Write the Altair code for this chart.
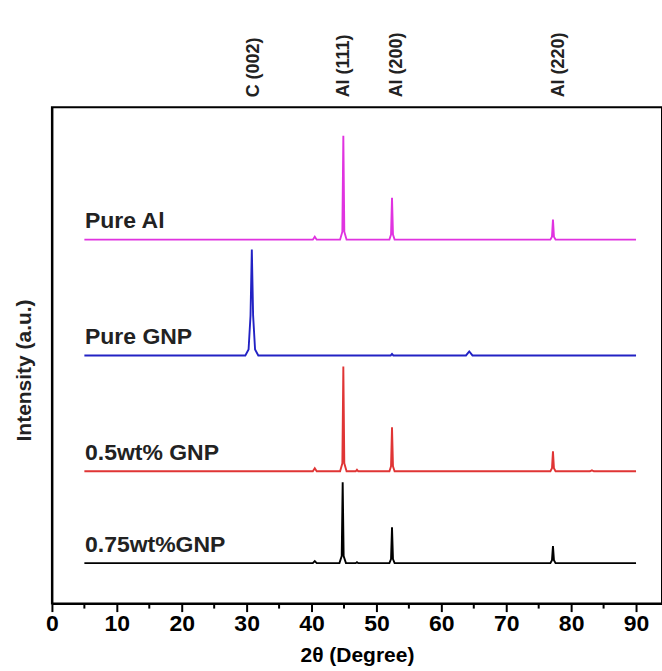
import altair as alt
import pandas as pd

FONT = "Liberation Sans"

series_names = ["Pure Al", "Pure GNP", "0.5wt% GNP", "0.75wt%GNP"]
series_colors = ["#e033e0", "#2222c4", "#e03535", "#000000"]
series_offsets = [364.5, 248.5, 132.5, 40.5]

pure_al_x = [5, 40.2, 40.5, 40.8, 44.4, 44.75, 44.9, 45.05, 45.4, 52.0, 52.25, 52.4, 52.55, 52.8, 76.8, 77.05, 77.2, 77.35, 77.6, 90]
pure_al_y = [0, 0, 3, 0, 0, 8, 104, 8, 0, 0, 5, 42, 5, 0, 0, 3, 20, 3, 0, 0]

pure_gnp_x = [5, 29.8, 30.3, 30.6, 30.8, 31.0, 31.3, 31.8, 52.2, 52.4, 52.6, 63.8, 64.3, 64.8, 90]
pure_gnp_y = [0, 0, 6, 40, 106, 40, 6, 0, 0, 1.5, 0, 0, 4, 0, 0]

gnp05_x = [5, 40.2, 40.5, 40.8, 44.4, 44.75, 44.9, 45.05, 45.4, 46.8, 47.0, 47.2, 52.0, 52.25, 52.4, 52.55, 52.8, 76.8, 77.05, 77.2, 77.35, 77.6, 82.9, 83.2, 83.5, 90]
gnp05_y = [0, 0, 3, 0, 0, 8, 105, 8, 0, 0, 1.5, 0, 0, 5, 44, 5, 0, 0, 3, 20, 3, 0, 0, 1, 0, 0]

gnp075_x = [5, 40.2, 40.5, 40.8, 44.3, 44.65, 44.8, 44.95, 45.3, 46.8, 47.0, 47.2, 52.0, 52.25, 52.4, 52.55, 52.8, 76.8, 77.05, 77.2, 77.35, 77.6, 90]
gnp075_y = [0, 0, 2, 0, 0, 7, 81, 7, 0, 0, 1, 0, 0, 4, 36, 4, 0, 0, 3, 17, 3, 0, 0]

peak_labels = ["C (002)", "Al (111)", "Al (200)", "Al (220)"]
peak_label_x = [31.2, 45.0, 53.1, 78.2]

x_ticks = [0, 10, 20, 30, 40, 50, 60, 70, 80, 90]
x_minor = [5, 15, 25, 35, 45, 55, 65, 75, 85]

series_x = [pure_al_x, pure_gnp_x, gnp05_x, gnp075_x]
series_y = [pure_al_y, pure_gnp_y, gnp05_y, gnp075_y]

rows = []
for name, off, xs, ys in zip(series_names, series_offsets, series_x, series_y):
    for i, (xv, yv) in enumerate(zip(xs, ys)):
        rows.append({"series": name, "x": xv, "y": off + yv, "i": i})
df = pd.DataFrame(rows)

lab_df = pd.DataFrame({
    "series": series_names,
    "x": [5.1] * 4,
    "y": [o + 11.5 for o in series_offsets],
})
peak_df = pd.DataFrame({"t": peak_labels, "x": peak_label_x})
minor_df = pd.DataFrame({"x": x_minor})

W, H = 611, 497
xscale = alt.Scale(domain=[0, 94], nice=False, zero=False)
yscale = alt.Scale(domain=[0, H], nice=False, zero=False)

lines = alt.Chart(df).mark_line(strokeWidth=1.9, clip=True).encode(
    x=alt.X("x:Q", scale=xscale, axis=alt.Axis(
        values=x_ticks, title="2θ (Degree)", grid=False, format="d",
        tickSize=8, tickWidth=2, tickColor="black", domainColor="black", domainWidth=2,
        labelFont=FONT, labelFontSize=23, labelFontWeight="bold", labelColor="black",
        labelPadding=1, titleFont=FONT, titleFontSize=21, titleFontWeight="bold",
        titleColor="black", titleY=52, titleBaseline="middle", labelFlush=False)),
    y=alt.Y("y:Q", scale=yscale, axis=alt.Axis(
        ticks=False, labels=False, grid=False, title="Intensity (a.u.)",
        domainColor="black", domainWidth=2, titleFont=FONT, titleFontSize=21,
        titleFontWeight="bold", titleColor="#222222", titleAngle=270,
        titleX=-27, titleY=263, titleBaseline="middle", titleAlign="center")),
    color=alt.Color("series:N", scale=alt.Scale(domain=series_names, range=series_colors), legend=None),
    detail="series:N",
    order="i:Q",
)

labels = alt.Chart(lab_df).mark_text(
    align="left", baseline="alphabetic", font=FONT, fontSize=23, fontWeight="bold", color="#222222"
).encode(x=alt.X("x:Q", scale=xscale), y=alt.Y("y:Q", scale=yscale), text="series:N")

peaks = alt.Chart(peak_df).mark_text(
    angle=270, align="left", baseline="middle", font=FONT, fontSize=18, fontWeight="bold", color="#222222"
).encode(x=alt.X("x:Q", scale=xscale), y=alt.value(-10), text="t:N")

minor = alt.Chart(minor_df).mark_rule(strokeWidth=2, color="black").encode(
    x=alt.X("x:Q", scale=xscale), y=alt.value(H), y2=alt.value(H + 5)
)

chart = alt.layer(lines, labels, peaks, minor).properties(
    width=W, height=H,
    autosize=alt.AutoSizeParams(type="none"),
    padding={"left": 52, "top": 107, "right": 0, "bottom": 67},
    background="white",
).configure_view(stroke="black", strokeWidth=2)

chart.save("out.html", embed_options={"renderer": "svg", "actions": False})
